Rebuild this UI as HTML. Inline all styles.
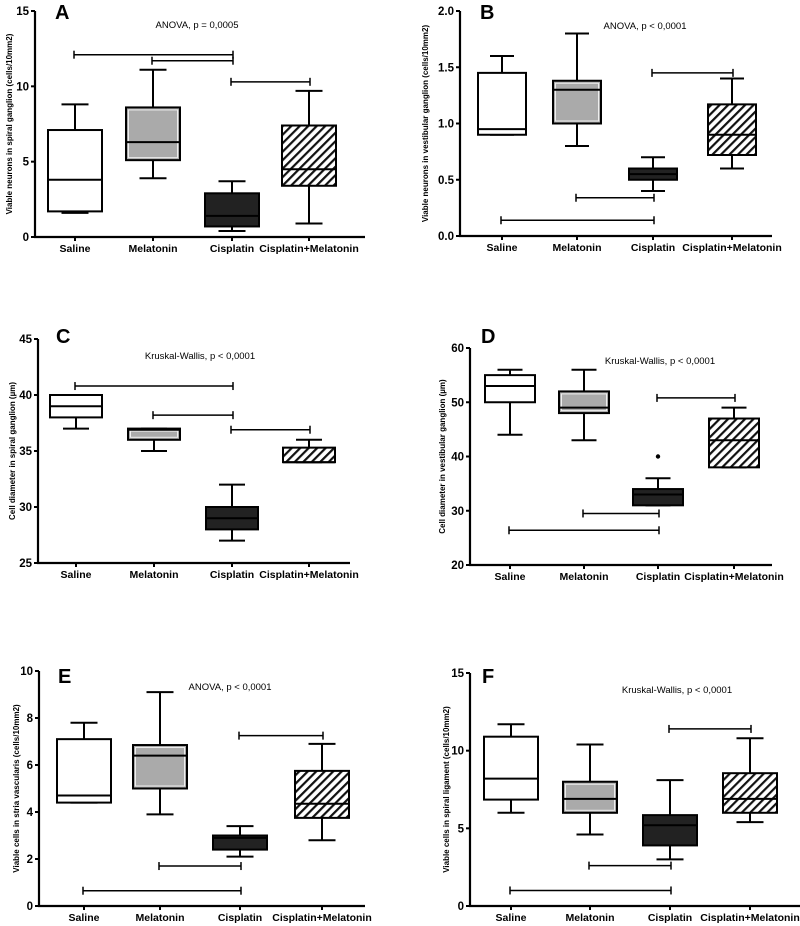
<!DOCTYPE html>
<html><head><meta charset="utf-8">
<style>
html,body{margin:0;padding:0;background:#fff;}
svg{display:block;font-family:"Liberation Sans",sans-serif;}
</style></head>
<body>
<svg id="fig" width="800" height="926" viewBox="0 0 800 926" xmlns="http://www.w3.org/2000/svg">
<defs>
<pattern id="hatch" patternUnits="userSpaceOnUse" width="6" height="6" patternTransform="rotate(45)">
<rect width="6" height="6" fill="#fff"/>
<rect x="0" y="0" width="2.2" height="6" fill="#111"/>
</pattern>
</defs>
</svg>
<script>
const categories = ["Saline","Melatonin","Cisplatin","Cisplatin+Melatonin"];
// [min, q1, median, q3, max] per group
const dataA = [[1.6,1.7,3.8,7.1,8.8],[3.9,5.1,6.3,8.6,11.1],[0.4,0.7,1.4,2.9,3.7],[0.9,3.4,4.5,7.4,9.7]];
const dataB = [[0.9,0.9,0.95,1.45,1.6],[0.8,1.0,1.3,1.38,1.8],[0.4,0.5,0.55,0.6,0.7],[0.6,0.72,0.9,1.17,1.4]];
const dataC = [[37,38,39,40,40],[35,36,36.9,37,37],[27,28,29,30,32],[34,34,34,35.3,36]];
const dataD = [[44,50,53,55,56],[43,48,49,52,56],[31,31,33,34,36],[38,38,43,47,49]];
const dataE = [[4.4,4.4,4.7,7.1,7.8],[3.9,5.0,6.4,6.85,9.1],[2.1,2.4,2.9,3.0,3.4],[2.8,3.75,4.35,5.75,6.9]];
const dataF = [[6.0,6.85,8.2,10.9,11.7],[4.6,6.0,6.9,8.0,10.4],[3.0,3.9,5.2,5.85,8.1],[5.4,6.0,6.9,8.55,10.8]];
const outliersD = [[2,40]];
// brackets: [fromGroup, toGroup, yValue]
const bracketsA = [[0,2,12.1],[1,2,11.7],[2,3,10.3]];
const bracketsB = [[0,2,0.14],[1,2,0.34],[2,3,1.45]];
const bracketsC = [[0,2,40.8],[1,2,38.2],[2,3,36.9]];
const bracketsD = [[0,2,26.4],[1,2,29.5],[2,3,50.8]];
const bracketsE = [[0,2,0.65],[1,2,1.7],[2,3,7.25]];
const bracketsF = [[0,2,1.0],[1,2,2.6],[2,3,11.4]];
const ticksA = ["0","5","10","15"], ticksB = ["0.0","0.5","1.0","1.5","2.0"], ticksC = ["25","30","35","40","45"];
const ticksD = ["20","30","40","50","60"], ticksE = ["0","2","4","6","8","10"], ticksF = ["0","5","10","15"];

const NS="http://www.w3.org/2000/svg";
const svg=document.getElementById('fig');
function mk(tag,attrs,parent,text){const e=document.createElementNS(NS,tag);for(const k in attrs)e.setAttribute(k,attrs[k]);if(text!==undefined)e.textContent=text;(parent||svg).appendChild(e);return e;}
const fills=["#fff","#aaa","#222","url(#hatch)"];

const panels=[
 {id:"a",letter:"A",data:dataA,br:bracketsA,ticks:ticksA,ymin:0,ymax:15,ax:35,yt:11,yb:237,xe:365,cx:[75,153,232,309],hw:27,lx:55,ly:19,stat:"ANOVA, p = 0,0005",sx:197,sy:28,title:"Viable neurons in spiral ganglion (cells/10mm2)",tx:9,out:[]},
 {id:"b",letter:"B",data:dataB,br:bracketsB,ticks:ticksB,ymin:0,ymax:2,ax:460,yt:11,yb:236,xe:772,cx:[502,577,653,732],hw:24,lx:480,ly:19,stat:"ANOVA, p < 0,0001",sx:645,sy:29,title:"Viable neurons in vestibular ganglion (cells/10mm2)",tx:425,out:[]},
 {id:"c",letter:"C",data:dataC,br:bracketsC,ticks:ticksC,ymin:25,ymax:45,ax:38,yt:339,yb:563,xe:350,cx:[76,154,232,309],hw:26,lx:56,ly:343,stat:"Kruskal-Wallis, p < 0,0001",sx:200,sy:359,title:"Cell diameter in spiral ganglion (\u00b5m)",tx:12,out:[]},
 {id:"d",letter:"D",data:dataD,br:bracketsD,ticks:ticksD,ymin:20,ymax:60,ax:470,yt:348,yb:565,xe:772,cx:[510,584,658,734],hw:25,lx:481,ly:343,stat:"Kruskal-Wallis, p < 0,0001",sx:660,sy:364,title:"Cell diameter in vestibular ganglion (\u00b5m)",tx:442,out:outliersD},
 {id:"e",letter:"E",data:dataE,br:bracketsE,ticks:ticksE,ymin:0,ymax:10,ax:39,yt:671,yb:906,xe:365,cx:[84,160,240,322],hw:27,lx:58,ly:683,stat:"ANOVA, p < 0,0001",sx:230,sy:690,title:"Viable cells in stria vascularis (cells/10mm2)",tx:16,out:[]},
 {id:"f",letter:"F",data:dataF,br:bracketsF,ticks:ticksF,ymin:0,ymax:15,ax:470,yt:673,yb:906,xe:800,cx:[511,590,670,750],hw:27,lx:482,ly:683,stat:"Kruskal-Wallis, p < 0,0001",sx:677,sy:693,title:"Viable cells in spiral ligament (cells/10mm2)",tx:446,out:[]}
];

panels.forEach(p=>{
 const g=mk('g',{});
 
 
 const y=v=>p.yb-(v-p.ymin)/(p.ymax-p.ymin)*(p.yb-p.yt);
 const ya=mk('line',{x1:p.ax,y1:p.yt,x2:p.ax,y2:p.yb+1,stroke:'#000','stroke-width':2.2},g);
  
 const xa=mk('line',{x1:p.ax-1,y1:p.yb,x2:p.xe,y2:p.yb,stroke:'#000','stroke-width':2.2},g);
  
 const n=p.ticks.length;
 p.ticks.forEach((t,i)=>{
  const v=p.ymin+(p.ymax-p.ymin)*i/(n-1);
  mk('line',{x1:p.ax-4,y1:y(v),x2:p.ax,y2:y(v),stroke:'#000','stroke-width':2},g);
  const tl=mk('text',{x:p.ax-6,y:y(v)+4,'text-anchor':'end','font-size':11.5,'font-weight':'bold'},g,t);
   
 });
 categories.forEach((c,i)=>{
  mk('line',{x1:p.cx[i],y1:p.yb,x2:p.cx[i],y2:p.yb+4,stroke:'#000','stroke-width':2},g);
  const xl=mk('text',{x:p.cx[i],y:p.yb+15,'text-anchor':'middle','font-size':10.5,'font-weight':'bold'},g,c);
   
 });
 const my=(p.yt+p.yb)/2;
 const tt=mk('text',{x:p.tx,y:my,'text-anchor':'middle','font-size':8,'font-weight':'bold',transform:`rotate(-90 ${p.tx} ${my})`,dy:3},g,p.title);
  
 const lt=mk('text',{x:p.lx,y:p.ly,'font-size':20,'font-weight':'bold'},g,p.letter);
  
 const st=mk('text',{x:p.sx,y:p.sy,'text-anchor':'middle','font-size':9.5},g,p.stat);
  
 p.data.forEach((d,i)=>{
  const bg=mk('g',{},g);
  
  
  const cx=p.cx[i],hw=p.hw;
  mk('line',{x1:cx,y1:y(d[0]),x2:cx,y2:y(d[4]),stroke:'#000','stroke-width':2},bg);
  mk('line',{x1:cx-hw/2,y1:y(d[0]),x2:cx+hw/2,y2:y(d[0]),stroke:'#000','stroke-width':2},bg);
  mk('line',{x1:cx-hw/2,y1:y(d[4]),x2:cx+hw/2,y2:y(d[4]),stroke:'#000','stroke-width':2},bg);
  mk('rect',{x:cx-hw,y:y(d[3]),width:2*hw,height:Math.max(1,y(d[1])-y(d[3])),fill:fills[i],stroke:'#000','stroke-width':2},bg);
  if(i===1) mk('rect',{x:cx-hw+2.5,y:y(d[3])+2.5,width:2*hw-5,height:Math.max(0,y(d[1])-y(d[3])-5),fill:'none',stroke:'#eee','stroke-width':1},bg);
  mk('line',{x1:cx-hw,y1:y(d[2]),x2:cx+hw,y2:y(d[2]),stroke:'#000','stroke-width':2},bg);
 });
 p.out.forEach(o=>{
  const c=mk('circle',{cx:p.cx[o[0]],cy:y(o[1]),r:2.2,fill:'#000'},g);
   
 });
 p.br.forEach(b=>{
  const bg=mk('g',{},g);
  
  
  const x1=p.cx[b[0]]-1,x2=p.cx[b[1]]+1,yy=y(b[2]);
  mk('line',{x1:x1,y1:yy,x2:x2,y2:yy,stroke:'#000','stroke-width':1.5},bg);
  mk('line',{x1:x1,y1:yy-4,x2:x1,y2:yy+4,stroke:'#000','stroke-width':1.5},bg);
  mk('line',{x1:x2,y1:yy-4,x2:x2,y2:yy+4,stroke:'#000','stroke-width':1.5},bg);
 });
});
</script>
</body></html>
